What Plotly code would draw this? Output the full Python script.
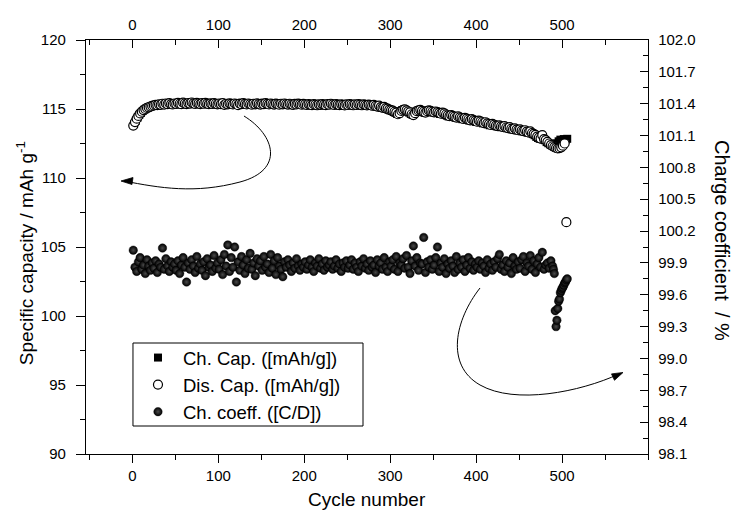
import plotly.graph_objects as go

# ---------------- data ----------------
dis_cycles = list(range(1, 506, 2)) + [523]
dis_cap = [
    113.80, 114.05, 114.30, 114.50, 114.68, 114.80, 114.92, 115.00, 115.08, 115.12, 115.18, 115.22, 115.26, 115.30, 115.28, 115.34, 115.30, 115.38, 115.32, 115.40, 115.35, 115.42, 115.36, 115.33, 115.40,
    115.37, 115.44, 115.38, 115.35, 115.46, 115.40, 115.36, 115.43, 115.39, 115.47, 115.41, 115.37, 115.44, 115.40, 115.36, 115.42, 115.38, 115.45, 115.39, 115.35, 115.41, 115.37, 115.43, 115.38, 115.34,
    115.40, 115.36, 115.42, 115.30, 115.38, 115.34, 115.41, 115.37, 115.33, 115.40, 115.36, 115.28, 115.39, 115.35, 115.42, 115.37, 115.33, 115.40, 115.36, 115.31, 115.38, 115.34, 115.41, 115.36, 115.32,
    115.39, 115.35, 115.42, 115.37, 115.33, 115.40, 115.36, 115.32, 115.39, 115.35, 115.31, 115.38, 115.34, 115.40, 115.36, 115.32, 115.38, 115.34, 115.30, 115.37, 115.33, 115.39, 115.35, 115.31, 115.37,
    115.33, 115.29, 115.36, 115.32, 115.28, 115.35, 115.31, 115.27, 115.34, 115.30, 115.36, 115.32, 115.28, 115.35, 115.31, 115.38, 115.33, 115.29, 115.36, 115.32, 115.28, 115.34, 115.30, 115.26, 115.33,
    115.29, 115.35, 115.31, 115.27, 115.33, 115.29, 115.36, 115.31, 115.27, 115.34, 115.30, 115.26, 115.32, 115.28, 115.24, 115.30, 115.22, 115.18, 115.25, 115.14, 115.10, 115.16, 115.06, 115.02, 114.96,
    114.92, 114.88, 114.80, 114.74, 114.62, 114.70, 114.86, 114.94, 114.98, 114.90, 114.82, 114.76, 114.62, 114.56, 114.70, 114.84, 114.90, 114.94, 114.86, 114.80, 114.74, 114.84, 114.90, 114.86, 114.80,
    114.76, 114.82, 114.78, 114.72, 114.66, 114.74, 114.68, 114.60, 114.54, 114.48, 114.56, 114.50, 114.44, 114.38, 114.46, 114.40, 114.34, 114.28, 114.36, 114.30, 114.24, 114.18, 114.26, 114.20, 114.14,
    114.08, 114.16, 114.10, 114.04, 113.98, 114.04, 113.96, 113.90, 113.84, 113.92, 113.86, 113.80, 113.76, 113.82, 113.74, 113.70, 113.76, 113.66, 113.62, 113.68, 113.58, 113.54, 113.60, 113.50, 113.46,
    113.52, 113.44, 113.40, 113.46, 113.36, 113.30, 113.38, 113.26, 113.20, 113.12, 113.00, 112.92, 112.86, 113.10, 112.82, 112.74, 112.62, 112.50, 112.38, 112.30, 112.24, 112.18, 112.14, 112.16, 112.22,
    112.34, 112.50, 106.80,
]

ch_cycles = list(range(2, 507, 2))
ch_cap = [
    113.90, 114.15, 114.38, 114.58, 114.72, 114.86, 114.95, 115.04, 115.10, 115.15, 115.20, 115.24, 115.28, 115.26, 115.32, 115.29, 115.35, 115.31, 115.37, 115.33, 115.39, 115.34, 115.31, 115.38, 115.35,
    115.41, 115.36, 115.33, 115.43, 115.38, 115.34, 115.41, 115.37, 115.44, 115.39, 115.35, 115.42, 115.38, 115.34, 115.40, 115.36, 115.43, 115.37, 115.33, 115.39, 115.35, 115.41, 115.36, 115.32, 115.38,
    115.34, 115.40, 115.32, 115.36, 115.32, 115.39, 115.35, 115.31, 115.38, 115.34, 115.30, 115.37, 115.33, 115.40, 115.35, 115.31, 115.38, 115.34, 115.30, 115.36, 115.32, 115.39, 115.34, 115.30, 115.37,
    115.33, 115.40, 115.35, 115.31, 115.38, 115.34, 115.30, 115.37, 115.33, 115.29, 115.36, 115.32, 115.38, 115.34, 115.30, 115.36, 115.32, 115.28, 115.35, 115.31, 115.37, 115.33, 115.29, 115.35, 115.31,
    115.27, 115.34, 115.30, 115.26, 115.33, 115.29, 115.25, 115.32, 115.28, 115.34, 115.30, 115.26, 115.33, 115.29, 115.36, 115.31, 115.27, 115.34, 115.30, 115.26, 115.32, 115.28, 115.24, 115.31, 115.27,
    115.33, 115.29, 115.25, 115.31, 115.27, 115.34, 115.29, 115.25, 115.32, 115.28, 115.24, 115.30, 115.26, 115.22, 115.28, 115.20, 115.16, 115.23, 115.12, 115.08, 115.14, 115.04, 115.00, 114.94, 114.90,
    114.86, 114.78, 114.72, 114.64, 114.68, 114.84, 114.92, 114.96, 114.88, 114.80, 114.74, 114.64, 114.58, 114.68, 114.82, 114.88, 114.92, 114.84, 114.78, 114.72, 114.82, 114.88, 114.84, 114.78, 114.74,
    114.80, 114.76, 114.70, 114.64, 114.72, 114.66, 114.58, 114.52, 114.46, 114.54, 114.48, 114.42, 114.36, 114.44, 114.38, 114.32, 114.26, 114.34, 114.28, 114.22, 114.16, 114.24, 114.18, 114.12, 114.06,
    114.14, 114.08, 114.02, 113.96, 114.02, 113.94, 113.88, 113.82, 113.90, 113.84, 113.78, 113.74, 113.80, 113.72, 113.68, 113.74, 113.64, 113.60, 113.66, 113.56, 113.52, 113.58, 113.48, 113.44, 113.50,
    113.42, 113.38, 113.44, 113.34, 113.28, 113.36, 113.24, 113.18, 113.10, 112.98, 112.90, 112.84, 113.06, 112.80, 112.74, 112.60, 112.52, 112.44, 112.50, 112.40, 112.34, 112.50, 112.66, 112.78, 112.74,
    112.82, 112.76, 112.84,
]

cc_cycles = list(range(1, 490, 2)) + list(range(490, 507))
charge_coeff = [
    100.02, 99.86, 99.82, 99.91, 99.95, 99.84, 99.88, 99.80, 99.93, 99.87, 99.83, 99.90, 99.85, 99.92, 99.81, 99.89, 99.86, 100.04, 99.84, 99.94, 99.87, 99.82, 99.91, 99.86, 99.89,
    99.83, 99.92, 99.80, 99.88, 99.95, 99.86, 99.72, 99.90, 99.84, 99.93, 99.87, 99.81, 99.96, 99.85, 99.89, 99.83, 99.91, 99.78, 99.94, 99.86, 99.88, 99.82, 99.97, 99.85, 99.90,
    99.84, 99.93, 99.79, 99.98, 99.87, 100.07, 99.82, 99.95, 99.86, 100.05, 99.72, 99.91, 99.83, 99.96, 99.88, 99.80, 99.93, 99.85, 99.99, 99.84, 99.90, 99.78, 99.94, 99.87, 99.92,
    99.83, 99.96, 99.86, 99.89, 99.81, 99.98, 99.85, 99.92, 99.79, 99.95, 99.87, 99.84, 99.77, 99.91, 99.86, 99.93, 99.88, 99.82, 99.90, 99.85, 99.94, 99.87, 99.83, 99.89, 99.86,
    99.91, 99.84, 99.88, 99.93, 99.86, 99.82, 99.90, 99.87, 99.94, 99.85, 99.89, 99.83, 99.92, 99.86, 99.88, 99.91, 99.84, 99.87, 99.93, 99.85, 99.89, 99.82, 99.90, 99.86, 99.92,
    99.85, 99.88, 99.93, 99.84, 99.90, 99.86, 99.82, 99.91, 99.87, 99.94, 99.85, 99.89, 99.83, 99.92, 99.86, 99.88, 99.81, 99.93, 99.87, 99.90, 99.84, 99.95, 99.86, 99.82, 99.91,
    99.87, 99.93, 99.84, 99.96, 99.82, 99.90, 99.88, 99.94, 99.85, 99.97, 99.86, 99.80, 99.92, 100.06, 99.87, 99.95, 99.83, 99.90, 99.89, 100.14, 99.81, 99.91, 99.86, 99.93, 99.84,
    99.88, 99.95, 100.05, 99.82, 99.90, 99.86, 99.94, 99.80, 99.89, 99.85, 99.92, 99.87, 99.81, 99.96, 99.84, 99.90, 99.86, 99.93, 99.82, 99.88, 99.95, 99.85, 99.91, 99.83, 99.89,
    99.86, 99.92, 99.84, 99.90, 99.87, 99.81, 99.93, 99.85, 99.89, 99.83, 99.91, 99.86, 99.94, 99.98, 99.84, 99.88, 99.82, 99.92, 99.86, 99.90, 99.80, 99.95, 99.87, 99.84, 99.91,
    99.85, 99.93, 99.96, 99.82, 99.90, 99.87, 99.97, 99.84, 99.92, 99.81, 99.89, 99.95, 99.86, 100.00, 99.84, 99.88, 99.90, 99.85, 99.92, 99.87,
    99.84, 99.80, 99.45, 99.30, 99.36, 99.47, 99.54, 99.56, 99.62, 99.64, 99.66, 99.67, 99.69, 99.71, 99.72, 99.74, 99.75,
]

x_ticks = [0, 100, 200, 300, 400, 500]
left_ticks = [90, 95, 100, 105, 110, 115, 120]
right_ticks = [98.1, 98.4, 98.7, 99.0, 99.3, 99.6, 99.9, 100.2, 100.5, 100.8, 101.1, 101.4, 101.7, 102.0]

FONT = "Arial, 'Liberation Sans', Arimo, sans-serif"

fig = go.Figure()
fig.add_trace(go.Scatter(
    x=ch_cycles, y=ch_cap, mode="markers", name="Ch. Cap. ([mAh/g])",
    marker=dict(symbol="square", size=8, color="black", line=dict(width=0)),
    xaxis="x", yaxis="y"))
fig.add_trace(go.Scatter(
    x=dis_cycles, y=dis_cap, mode="markers", name="Dis. Cap. ([mAh/g])",
    marker=dict(symbol="circle", size=9, color="white", line=dict(width=1.2, color="black")),
    xaxis="x", yaxis="y"))
fig.add_trace(go.Scatter(
    x=cc_cycles, y=charge_coeff, mode="markers", name="Ch. coeff. ([C/D])",
    marker=dict(symbol="circle", size=8.5, color="#000000",
                line=dict(width=0.4, color="#000000"),
                gradient=dict(type="radial", color="#4a4a4a")),
    xaxis="x2", yaxis="y2"))

axis_common = dict(showline=True, linecolor="black", linewidth=1.3, showgrid=False,
                   zeroline=False, tickcolor="black", tickwidth=1.2,
                   tickfont=dict(family=FONT, size=15, color="black"))
minor_common = dict(tickcolor="black", tickwidth=1.2)
XR = [-54, 600]

fig.update_layout(
    width=736, height=515,
    margin=dict(l=86, r=88, t=40, b=61, pad=0),
    paper_bgcolor="white", plot_bgcolor="white",
    font=dict(family=FONT, color="black"),
    xaxis=dict(range=XR, tickvals=x_ticks, ticks="outside", ticklen=8,
               minor=dict(tick0=0, dtick=50, ticks="outside", ticklen=5, **minor_common),
               **axis_common),
    xaxis2=dict(range=XR, tickvals=x_ticks, ticks="inside", ticklen=8,
                overlaying="x", side="top", anchor="y2", ticklabelstandoff=3,
                minor=dict(tick0=0, dtick=50, ticks="inside", ticklen=5, **minor_common),
                **axis_common),
    yaxis=dict(range=[90, 120], tickvals=left_ticks, ticks="outside", ticklen=9,
               ticklabelstandoff=7,
               minor=dict(tick0=90, dtick=2.5, ticks="outside", ticklen=5, **minor_common),
               **axis_common),
    yaxis2=dict(range=[98.1, 102.0], tickvals=right_ticks, tickformat=".1f", ticks="inside", ticklen=8,
                overlaying="y", side="right", anchor="x2", ticklabelstandoff=6,
                minor=dict(tick0=98.1, dtick=0.15, ticks="inside", ticklen=5, **minor_common),
                **axis_common),
    showlegend=True,
    legend=dict(x=0.0836, y=0.2777, xanchor="left", yanchor="top",
                bgcolor="rgba(0,0,0,0)", borderwidth=0,
                font=dict(family=FONT, size=18.5, color="black"),
                itemwidth=40, tracegroupgap=0),
)

# legend frame
fig.add_shape(type="rect", xref="paper", yref="paper",
              x0=0.0836, x1=0.4929, y0=0.0676, y1=0.2681,
              line=dict(color="black", width=1), fillcolor="white", layer="above")

# axis titles
fig.add_annotation(text="Cycle number", xref="paper", yref="paper", x=0.5, y=-0.111,
                   showarrow=False, xanchor="center", yanchor="middle",
                   font=dict(family=FONT, size=19, color="black"))
fig.add_annotation(text="Specific capacity / mAh g<sup>-1</sup>", xref="paper", yref="paper",
                   x=-0.1085, y=0.485, showarrow=False, textangle=-90,
                   xanchor="center", yanchor="middle",
                   font=dict(family=FONT, size=19, color="black"))
fig.add_annotation(text="Charge coefficient  / %", xref="paper", yref="paper",
                   x=1.1317, y=0.517, showarrow=False, textangle=90,
                   xanchor="center", yanchor="middle",
                   font=dict(family=FONT, size=20, color="black"))

# curved arrows (decorative, paper coordinates)
fig.add_shape(type="path", xref="paper", yref="paper",
              path="M 0.2811,0.8164 C 0.3363,0.7705 0.3541,0.6860 0.2740,0.6570 S 0.1317,0.6425 0.0676,0.6594",
              line=dict(color="black", width=1))
fig.add_shape(type="path", xref="paper", yref="paper",
              path="M 0.06228,0.65942 L 0.08363,0.66787 L 0.08185,0.65097 Z",
              line=dict(color="black", width=0.8), fillcolor="black")
fig.add_shape(type="path", xref="paper", yref="paper",
              path="M 0.7011,0.4010 C 0.6566,0.3237 0.6388,0.2150 0.7011,0.1667 S 0.8790,0.1498 0.9484,0.1932",
              line=dict(color="black", width=1))
fig.add_shape(type="path", xref="paper", yref="paper",
              path="M 0.95552,0.19686 L 0.94039,0.17802 L 0.93505,0.19348 Z",
              line=dict(color="black", width=0.8), fillcolor="black")

fig.write_html("out.html", config={"displayModeBar": False},
               post_script="document.body.style.margin='0px';document.body.style.padding='0px';")
